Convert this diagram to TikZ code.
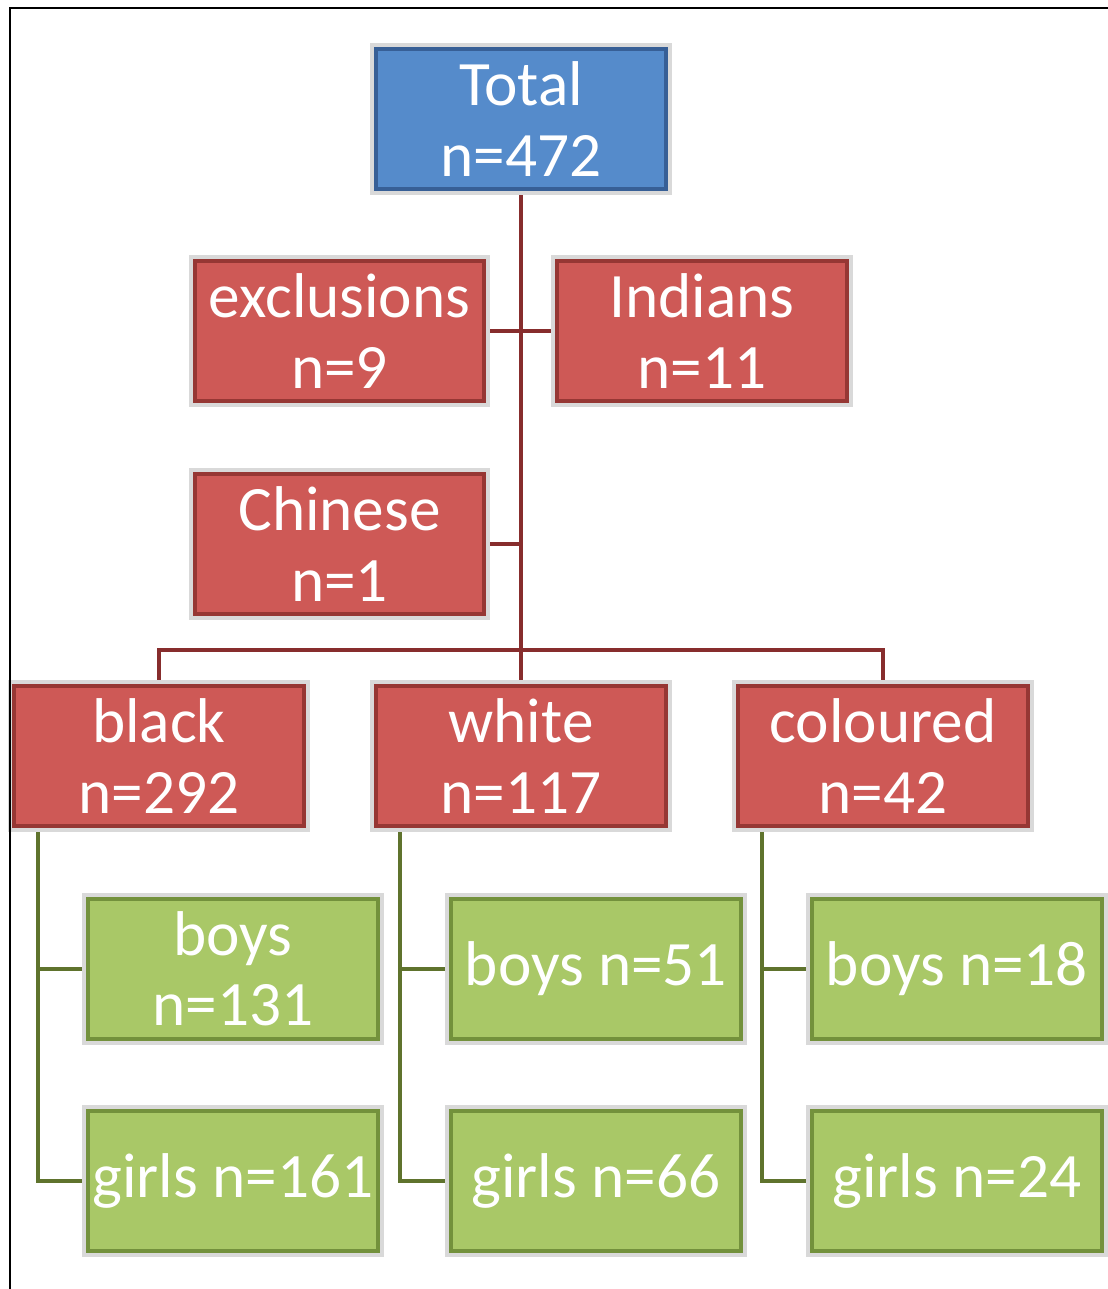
\documentclass[tikz,border=0pt]{standalone}
\usepackage{fontspec}
\setmainfont{Carlito}
\usetikzlibrary{positioning,backgrounds}
\definecolor{boxred}{RGB}{206,89,86}
\definecolor{boxredline}{RGB}{150,55,52}
\definecolor{boxblue}{RGB}{85,139,203}
\definecolor{boxblueline}{RGB}{55,95,150}
\definecolor{boxgreen}{RGB}{169,200,103}
\definecolor{boxgreenline}{RGB}{115,145,60}
\definecolor{linkred}{RGB}{135,45,45}
\definecolor{linkgreen}{RGB}{95,115,45}

\begin{document}
\begin{tikzpicture}[x=0.02cm,y=-0.02cm,
    group/.style={rectangle, minimum width=5.8cm, minimum height=2.8cm, inner sep=0pt,
      align=center, text=white, font=\fontsize{36}{40}\selectfont,
      preaction={draw=gray!30, line width=6.8pt}, line width=2.3pt},
    totalbox/.style={group, fill=boxblue, draw=boxblueline},
    redbox/.style={group, fill=boxred, draw=boxredline},
    greenbox/.style={group, fill=boxgreen, draw=boxgreenline},
    redlink/.style={draw=linkred, line width=2.3pt},
    greenlink/.style={draw=linkgreen, line width=2.2pt}]
    \useasboundingbox (0,0) rectangle (1108,1289);
    % top of the tree
    \node[totalbox] (total) at (521,119) {Total\\n=472};
    \node[redbox] (excl) at (339.5,331) {exclusions\\n=9};
    \node[redbox] (indians) at (702,331) {Indians\\n=11};
    \node[redbox] (chinese) at (339.5,544) {Chinese\\n=1};
    % groups
    \node[redbox] (black) at (159,756) {black\\n=292};
    \node[redbox] (white) at (521,756) {white\\n=117};
    \node[redbox] (coloured) at (883,756) {coloured\\n=42};
    % boys and girls
    \node[greenbox] (boysb) at (233,969) {boys\\n=131};
    \node[greenbox] (girlsb) at (233,1181) {girls n=161};
    \node[greenbox] (boysw) at (596,969) {boys n=51};
    \node[greenbox] (girlsw) at (596,1181) {girls n=66};
    \node[greenbox] (boysc) at (957,969) {boys n=18};
    \node[greenbox] (girlsc) at (957,1181) {girls n=24};
    \coordinate (bus) at (521,650);
    \begin{scope}[on background layer]
      \draw[redlink] (total.south) -- (white.north);
      \draw[redlink] (black.north) |- (bus) -| (coloured.north);
      \draw[redlink] (excl.east) -- (indians.west);
      \draw[redlink] (chinese.east) -- (chinese.east -| total.south);
      \foreach \grp/\kid in {black/b, white/w, coloured/c} {
        \draw[greenlink] ([xshift=0.52cm]\grp.south west) |- (boys\kid.west);
        \draw[greenlink] ([xshift=0.52cm]\grp.south west) |- (girls\kid.west);
      }
    \end{scope}
    % frame
    \draw[line width=1.7pt] (10,1289) -- (10,8) -- (1108,8);
  \end{tikzpicture}
\end{document}
